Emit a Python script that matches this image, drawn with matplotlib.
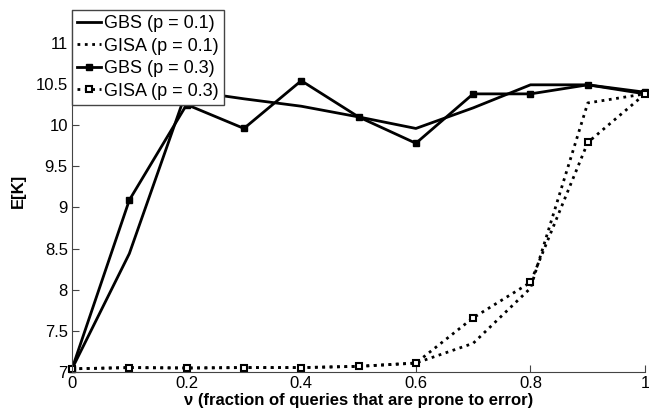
import numpy as np
import matplotlib.pyplot as plt

plt.rcParams['font.family'] = ['Liberation Sans', 'DejaVu Sans']

# fraction of queries prone to error
nu = [0, 0.1, 0.2, 0.3, 0.4, 0.5, 0.6, 0.7, 0.8, 0.9, 1.0]

gbs_p01 = [7.04, 8.44, 10.42, 10.32, 10.23, 10.10, 9.96, 10.21, 10.49, 10.49, 10.38]
gisa_p01 = [7.04, 7.055, 7.05, 7.055, 7.055, 7.07, 7.11, 7.35, 8.02, 10.27, 10.38]
gbs_p03 = [7.04, 9.09, 10.25, 9.96, 10.54, 10.10, 9.78, 10.38, 10.38, 10.49, 10.40]
gisa_p03 = [7.04, 7.055, 7.05, 7.055, 7.055, 7.07, 7.11, 7.66, 8.09, 9.79, 10.38]

xticks = [0, 0.2, 0.4, 0.6, 0.8, 1]
xticklabels = ['0', '0.2', '0.4', '0.6', '0.8', '1']
yticks = [7, 7.5, 8, 8.5, 9, 9.5, 10, 10.5, 11]
yticklabels = ['7', '7.5', '8', '8.5', '9', '9.5', '10', '10.5', '11']

fig = plt.figure(figsize=(6.49, 4.13), dpi=100)
ax = fig.add_axes([0.111, 0.099, 0.883, 0.877])

ax.plot(nu, gbs_p01, 'k-', lw=2, label='GBS (p = 0.1)', clip_on=False)
ax.plot(nu, gisa_p01, 'k:', lw=2, label='GISA (p = 0.1)', clip_on=False)
ax.plot(nu, gbs_p03, 'k-', lw=2, marker='s', ms=5, mfc='k', mec='k',
        label='GBS (p = 0.3)', clip_on=False)
ax.plot(nu, gisa_p03, 'k:', lw=2, marker='s', ms=5, mfc='w', mec='k', mew=1.5,
        label='GISA (p = 0.3)', clip_on=False)

ax.set_xlim(0, 1)
ax.set_ylim(7, 11.4)
ax.set_xticks(xticks)
ax.set_xticklabels(xticklabels)
ax.set_yticks(yticks)
ax.set_yticklabels(yticklabels)
ax.tick_params(direction='in', length=5, labelsize=12, color='#444444', pad=3)

for s in ['top', 'right']:
    ax.spines[s].set_visible(False)
for s in ['left', 'bottom']:
    ax.spines[s].set_color('#444444')

ax.set_xlabel('ν (fraction of queries that are prone to error)', fontsize=12,
              fontweight='bold', labelpad=1)
ax.set_ylabel('E[K]', fontsize=12, fontweight='bold', labelpad=7)

leg = ax.legend(loc='upper left', fontsize=13, fancybox=False, borderaxespad=0,
                handlelength=1.3, handletextpad=0.15, labelspacing=0.3,
                borderpad=0.3, framealpha=1)
leg.get_frame().set_edgecolor('#444444')
leg.get_frame().set_linewidth(1)

fig.savefig('out.png', dpi=100)
